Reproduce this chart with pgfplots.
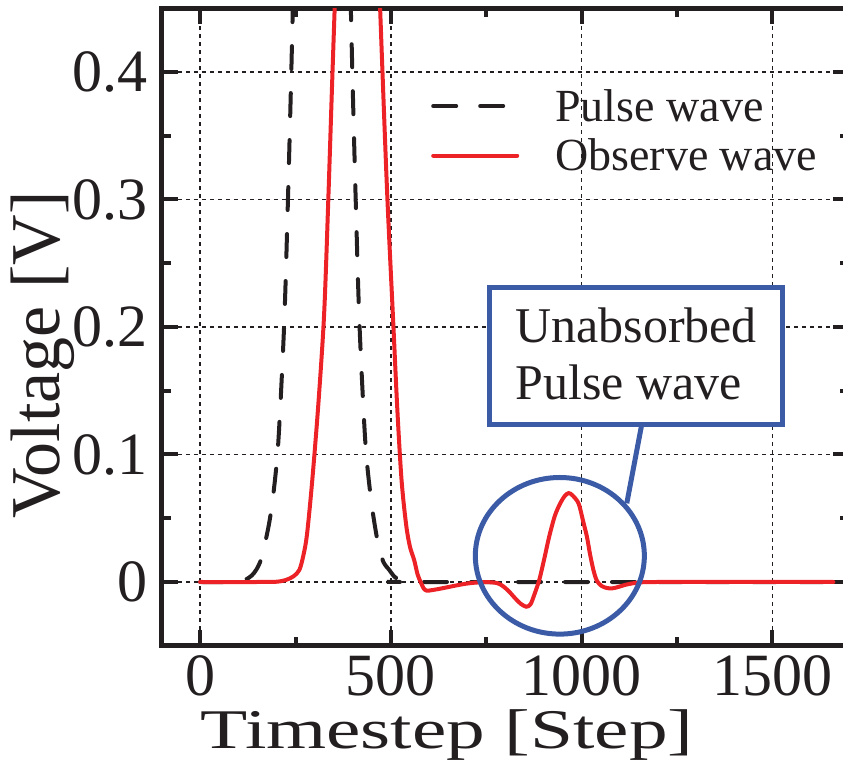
\documentclass[border=0pt]{standalone}
\usepackage{fontspec}
\setmainfont{Liberation Serif}
\newfontfamily\widelabel[FakeStretch=1.38]{Liberation Serif}
\usepackage{pgfplots}
\pgfplotsset{compat=1.18}
\usetikzlibrary{calc}

\definecolor{obsred}{RGB}{237,34,39}
\definecolor{annblue}{RGB}{59,91,167}
\definecolor{inkblack}{RGB}{35,31,32}

\begin{document}
\begin{tikzpicture}
\begin{axis}[
    scale only axis,
    width=686.6pt, height=637.5pt,
    xmin=-100, xmax=1700,
    ymin=-0.05, ymax=0.45,
    xtick={0,500,1000,1500}, xticklabels={0,500,1000,1500},
    ytick={0,0.1,0.2,0.3,0.4}, yticklabels={0,0.1,0.2,0.3,0.4},
    minor xtick={250,750,1250},
    minor ytick={0.05,0.15,0.25,0.35},
    tick align=inside,
    major tick length=16pt, minor tick length=9pt,
    tick style={line width=4pt, inkblack},
    axis line style={line width=5pt, inkblack},
    grid=major,
    major grid style={inkblack, line width=1.3pt, dash pattern=on 4pt off 4pt},
    xticklabel style={font=\fontsize{60}{60}\selectfont, inner sep=0pt, yshift=-10pt, text=inkblack},
    yticklabel style={font=\fontsize{60}{60}\selectfont, inner sep=0pt, xshift=-14pt, text=inkblack},
    xlabel={Timestep [Step]},
    ylabel={Voltage [V]},
    xlabel style={font=\widelabel\fontsize{56}{56}\selectfont, at={(axis description cs:0.4151,-0.1616)}, anchor=base, inner sep=0pt, text=inkblack},
    ylabel style={font=\fontsize{70}{70}\selectfont, at={(axis description cs:-0.1486,0.456)}, anchor=base, inner sep=0pt, text=inkblack},
    legend style={at={(axis description cs:0.3918,0.873)}, anchor=north west,
        draw=none, fill=none, inner sep=0pt, row sep=16pt,
        font=\fontsize{46}{46}\selectfont, text=inkblack,
        nodes={inner sep=0pt},
        /tikz/every odd column/.append style={column sep=36pt}},
    legend cell align=left,
    legend image code/.code={\draw (0pt,0pt) -- (84pt,0pt);},
]
% pulse wave
\addplot[inkblack, line width=4pt, line cap=round, dash pattern=on 23pt off 24pt, smooth]
coordinates {
(0,0) (90,0) (105,0.0005) (120,0.002) (135,0.005) (148,0.010) (160,0.018)
(172,0.033) (182,0.048) (192,0.069) (205,0.110) (220,0.200) (229,0.287)
(239,0.400) (249,0.532) (259,0.684) (279,1.006) (299,1.268) (319,1.370)
(339,1.268) (359,1.006) (379,0.684) (389,0.532) (399,0.400) (409,0.287)
(418,0.200) (433,0.110) (447,0.067) (456,0.048) (466,0.031) (480,0.016)
(496,0.0094) (510,0.004) (528,0.0012) (545,0.0002) (565,0) (1700,0)
};
\addlegendentry{Pulse wave}
% observed wave
\addplot[obsred, line width=4pt, line cap=round, smooth]
coordinates {
(0,0) (150,0) (200,0.0002) (225,0.0016) (245,0.0045) (260,0.0094) (270,0.020)
(280,0.037) (294,0.080) (310,0.140) (325,0.210) (336,0.300) (347,0.400)
(362,0.530) (377,0.650) (392,0.760) (412,0.834) (432,0.760) (447,0.650)
(462,0.530) (478,0.400) (491,0.300) (506,0.205) (517,0.135) (528,0.080)
(540,0.045) (550,0.0277) (561,0.0173) (570,0.006) (578,0.000) (586,-0.005)
(594,-0.0068) (605,-0.0065) (625,-0.0055) (650,-0.0040) (675,-0.0025)
(700,-0.0012) (730,-0.0003) (760,-0.0002) (780,-0.0010) (795,-0.0035)
(810,-0.0075) (825,-0.0125) (840,-0.0170) (855,-0.0194) (866,-0.0175)
(876,-0.0100) (889,0.0016) (902,0.0180) (915,0.0355) (930,0.0520)
(944,0.0617) (956,0.0675) (966,0.0697) (976,0.0680) (992,0.0617)
(1003,0.0490) (1014,0.0355) (1022,0.0220) (1031,0.0094) (1040,0.0010)
(1052,-0.0030) (1066,-0.0047) (1080,-0.0050) (1095,-0.0040) (1115,-0.0022)
(1135,-0.0010) (1160,-0.0002) (1200,0) (1660,0)
};
\addlegendentry{Observe wave}
% annotation
\draw[annblue, line width=5pt, fill=white] (axis cs:758,0.2310) rectangle (axis cs:1526.9,0.1238);
\node[anchor=base west, font=\fontsize{50}{50}\selectfont, inner sep=0pt, text=inkblack] at (axis cs:825.7,0.18745) {Unabsorbed};
\node[anchor=base west, font=\fontsize{50}{50}\selectfont, inner sep=0pt, text=inkblack] at (axis cs:825.7,0.14275) {Pulse wave};
\draw[annblue, line width=5pt] (axis cs:1157.8,0.1238) -- (axis cs:1118.5,0.0617);
\draw[annblue, line width=5pt] (axis cs:943,0.02055) ellipse [x radius=84.5pt, y radius=78.3pt];
\coordinate (sw) at (rel axis cs:0,0);
\end{axis}
\pgfresetboundingbox
\useasboundingbox ($(sw)+(-162pt,-116.25pt)$) rectangle ($(sw)+(681pt,645.75pt)$);
\end{tikzpicture}
\end{document}
